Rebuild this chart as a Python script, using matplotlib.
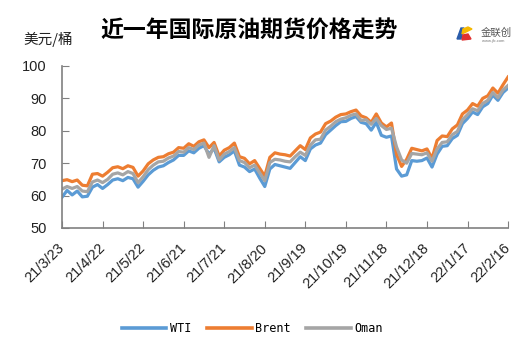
import matplotlib
matplotlib.use("agg")
import matplotlib.pyplot as plt
from matplotlib.patches import Polygon

plt.rcParams["font.family"] = ["Liberation Sans", "Noto Sans CJK SC", "DejaVu Sans"]

tick_labels = ["21/3/23", "21/4/22", "21/5/22", "21/6/21", "21/7/21", "21/8/20",
               "21/9/19", "21/10/19", "21/11/18", "21/12/18", "22/1/17", "22/2/16"]

brent = [64.6, 64.9, 64.3, 64.8, 63.2, 63.0, 66.6, 66.8, 66.0, 67.2,
         68.6, 68.9, 68.3, 69.2, 68.7, 66.0, 67.6, 69.8, 71.0, 71.8,
         72.0, 72.9, 73.4, 74.8, 74.6, 76.0, 75.2, 76.6, 77.2, 74.8,
         76.4, 72.2, 74.0, 74.8, 76.2, 72.0, 71.5, 69.8, 70.8, 68.4,
         66.0, 71.8, 73.2, 72.8, 72.6, 72.2, 73.8, 75.4, 74.2, 77.8,
         79.0, 79.6, 82.2, 83.0, 84.2, 85.0, 85.2, 85.9, 86.4, 84.6,
         84.0, 82.6, 85.2, 82.4, 81.2, 82.4, 72.7, 69.0, 71.2, 74.6,
         74.2, 73.8, 74.4, 71.5, 77.0, 78.4, 78.2, 80.6, 81.8, 85.2,
         86.4, 88.4, 87.6, 90.0, 90.8, 93.2, 91.6, 94.2, 96.6]

wti = [59.5, 61.6, 60.2, 61.4, 59.6, 59.8, 62.6, 63.4, 62.2, 63.4,
       64.8, 65.2, 64.6, 65.6, 65.2, 62.6, 64.4, 66.4, 67.8, 68.8,
       69.2, 70.2, 71.0, 72.4, 72.4, 73.8, 73.2, 74.6, 75.4, 72.8,
       74.6, 70.4, 71.8, 72.6, 73.8, 69.4, 68.8, 67.4, 68.2, 65.4,
       62.8, 68.2, 69.6, 69.2, 68.8, 68.4, 70.2, 72.0, 70.8, 74.4,
       75.6, 76.2, 78.8, 80.2, 81.6, 82.8, 82.9, 83.8, 84.4, 82.6,
       82.2, 80.2, 82.6, 78.6, 78.0, 78.4, 68.2, 66.0, 66.4, 70.8,
       70.6, 70.8, 71.6, 68.8, 72.8, 75.2, 75.4, 77.6, 78.6, 82.2,
       83.8, 85.8, 85.0, 87.4, 88.4, 91.0, 89.4, 91.8, 93.2]

oman = [62.0, 62.8, 62.2, 62.8, 61.4, 61.2, 64.2, 64.8, 64.0, 65.0,
        66.6, 67.0, 66.4, 67.4, 66.8, 64.0, 65.8, 68.0, 69.4, 70.4,
        70.6, 71.6, 72.2, 73.6, 73.4, 74.8, 74.2, 75.6, 76.2, 71.8,
        75.4, 71.0, 72.8, 73.6, 74.8, 70.8, 70.2, 68.6, 69.4, 67.0,
        64.6, 70.2, 71.2, 71.0, 70.6, 70.4, 72.0, 73.4, 72.4, 75.6,
        77.2, 77.4, 80.2, 81.4, 82.8, 83.6, 84.0, 84.8, 85.2, 83.2,
        83.4, 82.0, 83.8, 81.6, 80.4, 80.8, 75.0, 71.0, 70.0, 73.0,
        72.8, 72.6, 73.2, 70.6, 74.4, 76.4, 76.6, 78.8, 79.8, 83.4,
        85.0, 86.8, 86.2, 88.4, 89.4, 91.8, 90.2, 92.6, 94.0]

step = 8
x = list(range(len(brent)))

fig = plt.figure(figsize=(5.31, 3.54), dpi=100)
ax = fig.add_axes([0.1168, 0.356, 0.840, 0.4576])

ax.plot(x, wti, color="#5B9BD5", lw=2.3, label="WTI")
ax.plot(x, brent, color="#ED7D31", lw=2.3, label="Brent")
ax.plot(x, oman, color="#A5A5A5", lw=2.3, label="Oman")

ax.set_xlim(0, len(brent) - 1)
ax.set_ylim(50, 100)
ax.set_yticks(range(50, 101, 10))
ax.set_xticks(range(0, len(brent), step))
ax.set_xticklabels(tick_labels, rotation=45, ha="right", va="center",
                   rotation_mode="anchor", fontsize=10.5, color="#222222")
ax.tick_params(axis="y", direction="in", length=5, pad=11, labelsize=10.5,
               labelcolor="#222222", color="#808080")
ax.tick_params(axis="x", direction="in", length=5, pad=13, color="#808080")

for s in ["top", "right"]:
    ax.spines[s].set_visible(False)
for s in ["left", "bottom"]:
    ax.spines[s].set_color("#808080")
    ax.spines[s].set_linewidth(1.2)

leg = fig.legend(loc="center", bbox_to_anchor=(0.475, 0.073), ncol=3, frameon=False,
                 prop={"family": "DejaVu Sans Mono", "size": 8.5}, handlelength=3.8,
                 columnspacing=1.3, handletextpad=0.3)
for line in leg.get_lines():
    line.set_linewidth(2.6)

fig.text(249 / 531, 1 - 31 / 354, "近一年国际原油期货价格走势", ha="center", va="center",
         fontsize=16.5, fontweight="bold", family=["Noto Sans CJK SC", "DejaVu Sans"])
fig.text(23 / 531, 1 - 39 / 354, "美元/桶", ha="left", va="center",
         fontsize=10.5, color="#222222", family=["Noto Sans CJK SC", "DejaVu Sans"])

# logo
lax = fig.add_axes([455 / 531, 1 - 41 / 354, 18 / 531, 15 / 354])
lax.set_xlim(0, 18)
lax.set_ylim(0, 15)
lax.axis("off")
lax.add_patch(Polygon([[2, 2], [6, 13], [9, 13], [6, 2]], color="#2A5CAA"))
lax.add_patch(Polygon([[7, 7], [17, 12], [13, 14], [8, 12]], color="#F5B800"))
lax.add_patch(Polygon([[7, 1], [16, 2], [13, 7], [8, 6]], color="#E03030"))
fig.text(481 / 531, 1 - 33 / 354, "金联创", ha="left", va="center", fontsize=7.5,
         color="#555555", family=["Noto Sans CJK SC", "DejaVu Sans"])
fig.text(482 / 531, 1 - 41 / 354, "www.jlc.com", ha="left", va="center", fontsize=3,
         color="#777777")

fig.savefig("out.png", dpi=100)
